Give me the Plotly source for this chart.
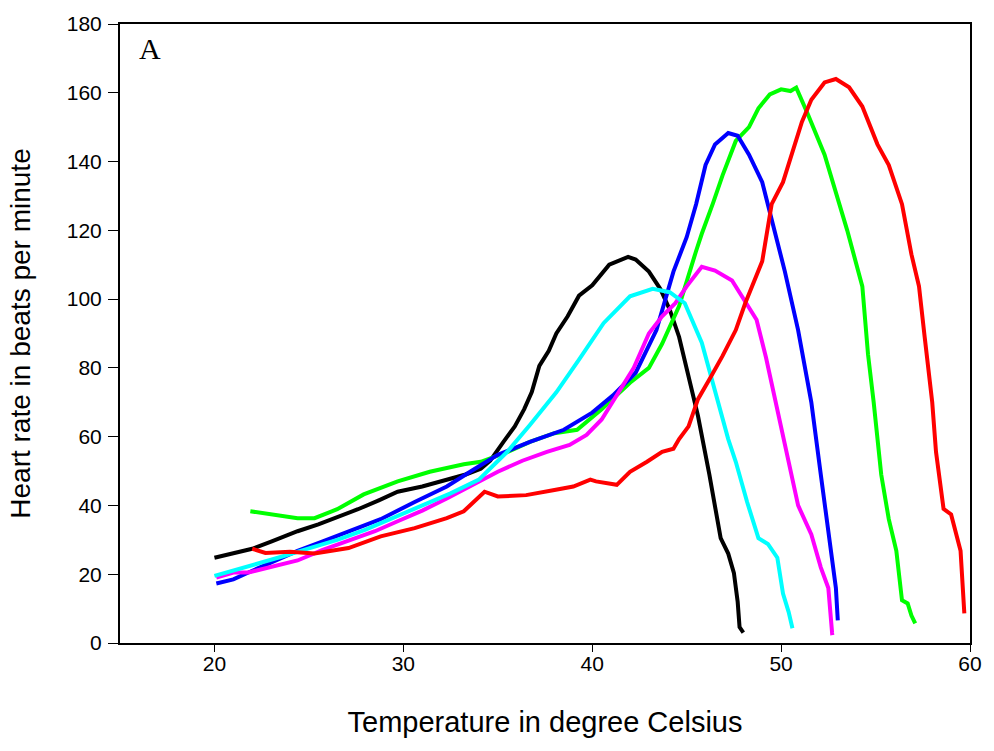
import plotly.graph_objects as go

# Black
black_x = [20.0, 20.5, 21.0, 22.0, 23.0, 24.4, 25.5, 26.5, 27.6, 28.7, 29.7, 31.0, 32.3, 33.3, 34.1, 34.6, 35.3, 35.9, 36.4, 36.8, 37.2, 37.7, 38.1, 38.7, 39.3, 40.0, 40.9, 41.5, 41.9, 42.3, 43.0, 43.6, 44.1, 44.6, 44.95, 45.3, 45.6, 46.2, 46.8, 47.2, 47.5, 47.7, 47.8, 48.0]
black_y = [24.8, 25.5, 26.0, 27.4, 29.5, 32.5, 34.5, 36.5, 38.9, 41.5, 44.0, 45.5, 47.5, 49.0, 50.7, 53.0, 58.5, 63.0, 68.0, 73.0, 80.6, 85.0, 90.0, 95.0, 101.0, 104.0, 110.0, 111.5, 112.3, 111.5, 108.0, 103.0, 97.0, 89.0, 80.6, 72.0, 66.0, 49.0, 30.5, 26.0, 20.4, 12.0, 4.6, 3.0]

# Green
green_x = [21.9, 23.0, 24.4, 25.3, 26.5, 27.9, 29.0, 29.7, 31.4, 33.2, 34.1, 35.5, 36.7, 38.0, 39.2, 40.5, 42.0, 43.0, 43.7, 44.6, 45.5, 45.8, 46.4, 46.9, 47.6, 48.3, 48.8, 49.4, 50.0, 50.5, 50.8, 51.4, 52.3, 52.9, 53.5, 54.3, 54.6, 54.9, 55.3, 55.7, 56.1, 56.4, 56.7, 56.9, 57.1]
green_y = [38.3, 37.5, 36.3, 36.3, 38.9, 43.2, 45.5, 47.0, 49.8, 52.0, 52.7, 55.5, 58.5, 61.0, 62.0, 68.0, 75.7, 80.0, 87.0, 98.0, 114.0, 119.0, 128.0, 136.0, 146.0, 150.0, 155.5, 159.5, 161.0, 160.5, 161.5, 154.0, 142.0, 131.0, 120.0, 103.7, 84.0, 70.0, 49.0, 36.0, 26.8, 12.4, 11.5, 8.0, 5.7]

# Blue
blue_x = [20.1, 21.0, 21.8, 23.0, 24.4, 25.7, 27.1, 28.8, 30.6, 32.3, 33.6, 35.0, 36.7, 38.5, 40.0, 41.1, 42.3, 43.4, 44.3, 45.0, 45.5, 46.0, 46.5, 47.2, 47.7, 48.3, 49.0, 49.5, 50.2, 50.9, 51.6, 52.1, 52.5, 52.9, 53.0]
blue_y = [17.3, 18.5, 20.5, 23.5, 26.8, 29.5, 32.5, 36.0, 41.0, 45.5, 50.0, 54.7, 58.5, 62.0, 67.0, 72.0, 78.6, 91.0, 108.0, 118.0, 127.6, 139.0, 145.0, 148.3, 147.5, 142.0, 134.0, 122.8, 108.0, 91.0, 70.0, 49.0, 31.6, 16.0, 6.6]

# Magenta
magenta_x = [20.1, 21.0, 21.8, 23.0, 24.4, 25.7, 27.1, 28.5, 29.7, 31.0, 32.3, 33.7, 35.0, 36.3, 37.6, 38.8, 39.7, 40.5, 41.3, 42.2, 43.0, 43.7, 44.4, 45.0, 45.8, 46.5, 47.4, 47.9, 48.7, 49.2, 49.7, 50.4, 50.9, 51.6, 52.1, 52.5, 52.7, 52.8]
magenta_y = [19.0, 20.5, 20.5, 22.0, 24.0, 27.0, 29.7, 32.5, 35.4, 38.5, 42.0, 46.0, 49.8, 53.0, 55.6, 57.6, 60.5, 65.0, 72.0, 80.0, 90.0, 95.0, 98.8, 103.7, 109.4, 108.3, 105.4, 101.0, 94.0, 83.0, 70.0, 52.7, 40.0, 31.6, 22.0, 16.0, 2.9, 3.0]

# Cyan
cyan_x = [20.0, 21.0, 22.0, 23.5, 25.0, 26.5, 28.0, 29.5, 31.0, 32.5, 34.0, 35.5, 36.7, 38.1, 39.3, 40.6, 42.0, 43.2, 44.1, 44.9, 45.8, 46.5, 47.2, 47.6, 48.2, 48.8, 49.3, 49.8, 50.1, 50.4, 50.6]
cyan_y = [19.5, 21.0, 22.5, 25.0, 27.5, 30.0, 33.0, 36.5, 40.0, 43.5, 47.5, 55.6, 63.4, 72.9, 82.4, 93.0, 100.8, 103.0, 102.0, 98.8, 87.3, 73.7, 59.3, 52.7, 41.0, 30.5, 28.8, 24.8, 14.4, 9.0, 4.3]

# Red
red_x = [22.0, 22.7, 24.0, 25.3, 27.1, 28.8, 30.6, 32.3, 33.2, 34.3, 35.0, 36.5, 38.0, 39.0, 39.9, 40.2, 41.3, 42.0, 42.9, 43.7, 44.3, 44.6, 45.1, 45.6, 46.2, 46.9, 47.6, 48.1, 49.0, 49.5, 50.1, 50.8, 51.1, 51.6, 52.3, 52.9, 53.6, 54.3, 55.1, 55.7, 56.4, 56.9, 57.3, 57.6, 58.0, 58.2, 58.6, 59.0, 59.3, 59.5, 59.7]
red_y = [27.4, 26.2, 26.5, 26.0, 27.6, 31.0, 33.4, 36.3, 38.3, 44.0, 42.6, 43.0, 44.5, 45.5, 47.5, 47.0, 46.0, 49.8, 52.7, 55.6, 56.5, 59.3, 63.0, 70.9, 76.6, 83.5, 91.0, 98.8, 111.0, 127.6, 134.0, 145.7, 151.5, 158.0, 163.0, 164.0, 161.6, 156.0, 145.0, 139.0, 127.6, 113.0, 103.7, 89.0, 70.0, 55.6, 39.0, 37.4, 30.5, 26.8, 8.6]

series = [
    (black_x, black_y, "#000000"),
    (green_x, green_y, "#00ff00"),
    (blue_x, blue_y, "#0000ff"),
    (magenta_x, magenta_y, "#ff00ff"),
    (cyan_x, cyan_y, "#00ffff"),
    (red_x, red_y, "#ff0000"),
]

x_ticks = [20, 30, 40, 50, 60]
y_ticks = [0, 20, 40, 60, 80, 100, 120, 140, 160, 180]

fig = go.Figure()
for xs, ys, col in series:
    fig.add_trace(go.Scatter(x=xs, y=ys, mode="lines",
                             line=dict(color=col, width=4), showlegend=False))

sans = "Liberation Sans, Arial, sans-serif"
axis_font = dict(family=sans, size=21, color="#000000")
fig.update_layout(
    width=994, height=751,
    paper_bgcolor="white", plot_bgcolor="white",
    margin=dict(l=120, r=18, t=18, b=108),
    xaxis=dict(range=[15, 60], tickvals=x_ticks, ticks="outside", ticklen=7,
               tickcolor="#000", showline=True, linecolor="#000", linewidth=2,
               mirror=True, showgrid=False, zeroline=False, tickfont=axis_font,
               ticklabelstandoff=-6,
               title=dict(text="Temperature in degree Celsius",
                          font=dict(family=sans, size=29, color="#000"),
                          standoff=37)),
    yaxis=dict(range=[0, 180], tickvals=y_ticks, ticks="outside", ticklen=10,
               tickcolor="#000", showline=True, linecolor="#000", linewidth=2,
               mirror=True, showgrid=False, zeroline=False, tickfont=axis_font,
               ticklabelstandoff=2,
               title=dict(text="Heart rate in beats per minute",
                          font=dict(family=sans, size=28, color="#000"),
                          standoff=28)),
    annotations=[dict(text="A", x=0.02, y=0.99, xref="paper", yref="paper",
                      xanchor="left", yanchor="top", showarrow=False,
                      font=dict(family="Liberation Serif, Times New Roman, serif", size=30, color="#000"))],
)

fig.write_html("out.html")
